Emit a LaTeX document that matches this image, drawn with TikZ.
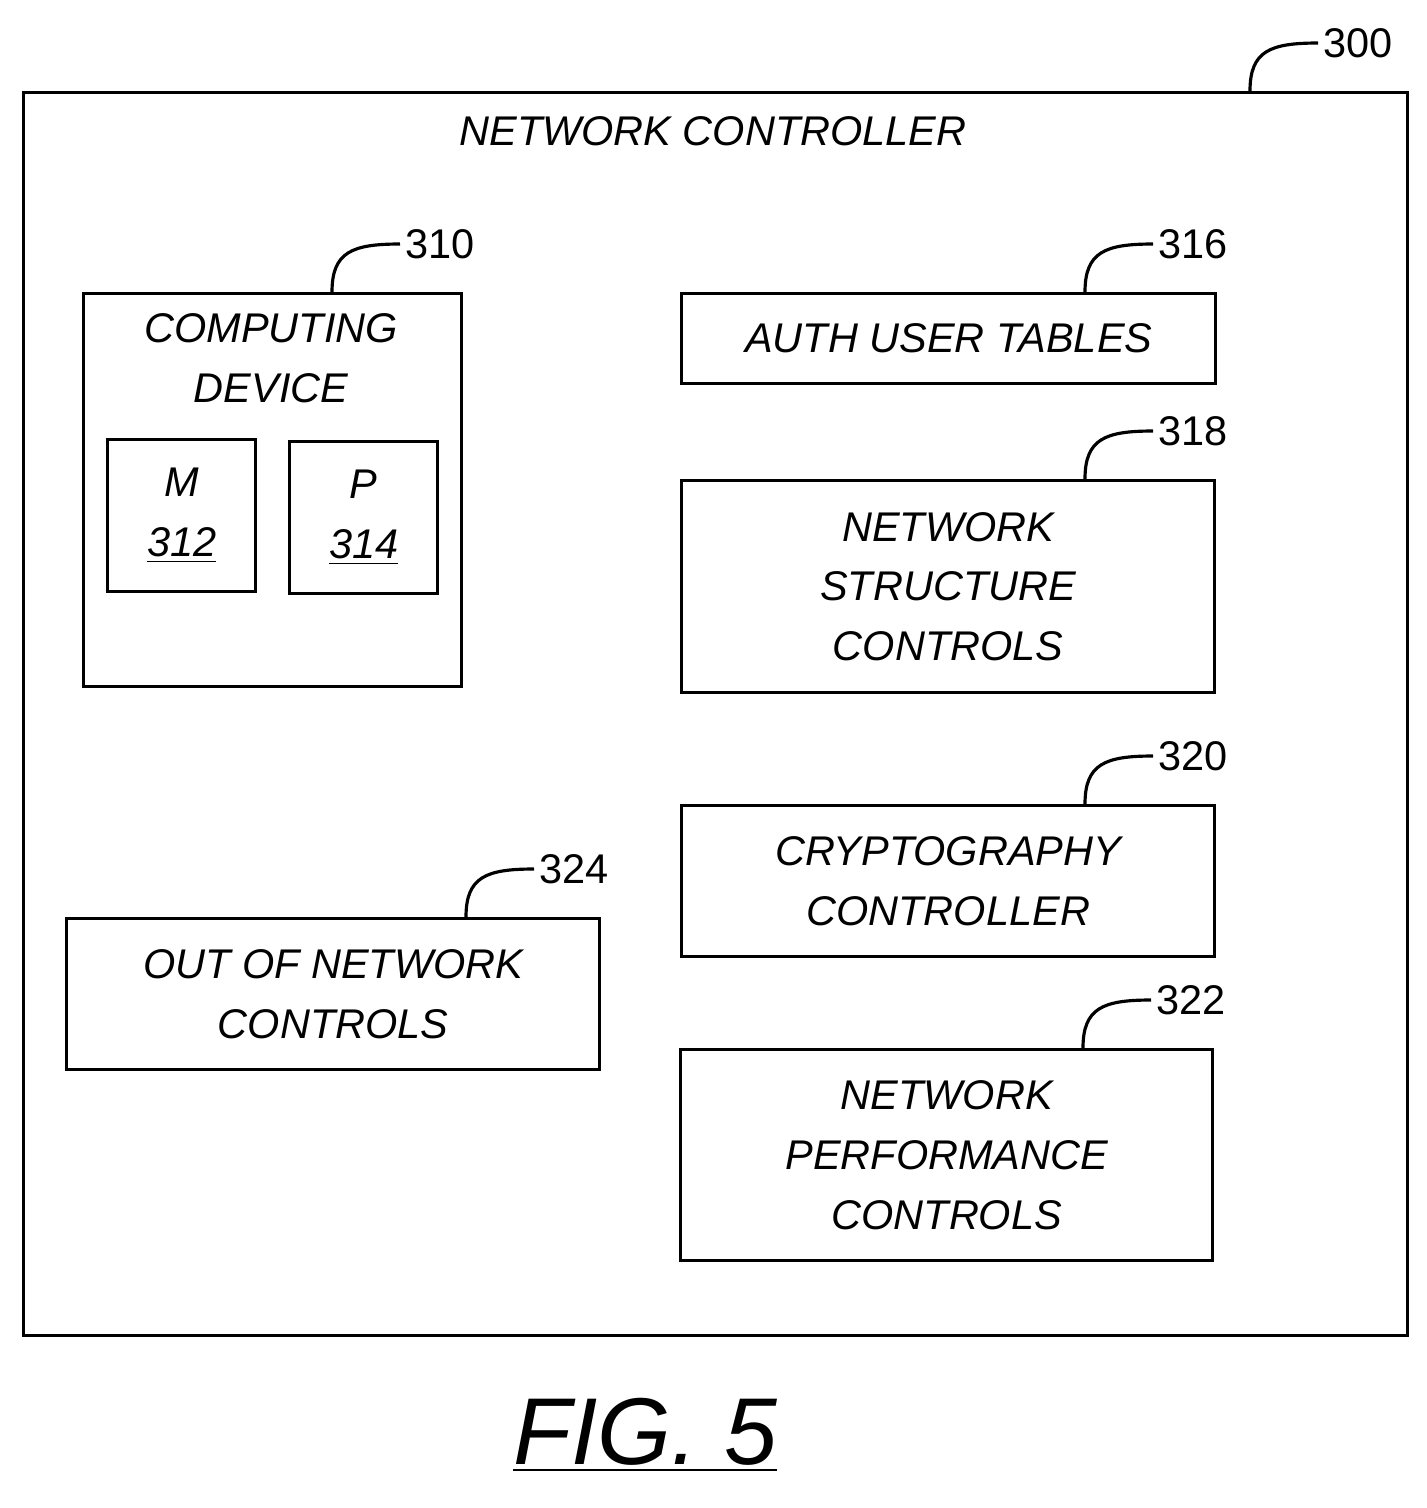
\documentclass[tikz,border=0pt]{standalone}
\usepackage{fontspec}
\setmainfont{Liberation Sans}
\usetikzlibrary{positioning, calc}

\begin{document}
\begin{tikzpicture}[x = 0.01cm, y = -0.01cm, line width = 0.9pt,
	box/.style = {draw, inner sep = 0, align = center, font = \fontsize{11.8}{17}\selectfont\itshape},
	refnum/.style = {right, inner sep = 1pt, font = \fontsize{11.8}{15}\selectfont}]

	% Frame of the page

	\useasboundingbox (0, 0) rectangle (1427, 1508);

	% Boxes

	\node [box, minimum width = 13.83cm, minimum height = 12.42cm, anchor = north west] (ctrl) at (22, 91) {};
	\node [box, draw = none, anchor = north] (title) at (713, 115) {NETWORK CONTROLLER};

	\node [box, minimum width = 3.78cm, minimum height = 3.93cm, anchor = north west] (cdev) at (82, 292) {};
	\node [box, draw = none, anchor = north] (cdevtxt) at (271, 312) {COMPUTING\\DEVICE};
	\node [box, minimum width = 1.48cm, minimum height = 1.52cm, anchor = north west] (mem) at (106, 438) {M\\\underline{312}};
	\node [box, minimum width = 1.48cm, minimum height = 1.52cm, anchor = north west] (proc) at (288, 440) {P\\\underline{314}};

	\node [box, minimum width = 5.34cm, minimum height = 0.90cm, anchor = north west] (auth) at (680, 292) {AUTH USER TABLES};
	\node [box, minimum width = 5.33cm, minimum height = 2.12cm, anchor = north west] (struct) at (680, 479) {NETWORK\\STRUCTURE\\CONTROLS};
	\node [box, minimum width = 5.33cm, minimum height = 1.51cm, anchor = north west] (crypto) at (680, 804) {CRYPTOGRAPHY\\CONTROLLER};
	\node [box, minimum width = 5.32cm, minimum height = 2.11cm, anchor = north west] (perf) at (679, 1048) {NETWORK\\PERFORMANCE\\CONTROLS};
	\node [box, minimum width = 5.33cm, minimum height = 1.51cm, anchor = north west] (outnet) at (65, 917) {OUT OF NETWORK\\CONTROLS};

	% Leaders with reference numerals

	\foreach \b/\x/\n in {ctrl/1250/300, cdev/332/310, auth/1085/316, struct/1085/318, crypto/1085/320, perf/1083/322, outnet/466/324}
	{
		\coordinate (\b-foot) at (\b.north -| \x, 0);
		\coordinate (\b-end) at ($(\b-foot) + (68, -48)$);
		\draw (\b-foot) .. controls ($(\b-foot) + (0, -40)$) and ($(\b-foot) + (20, -48)$) .. (\b-end)
			node [refnum] (\b-num) {\n};
	}

	% Figure label

	\node [font = \fontsize{27}{30}\selectfont\itshape] (fig) at (645, 1435) {\underline{FIG. 5}};

\end{tikzpicture}
\end{document}
